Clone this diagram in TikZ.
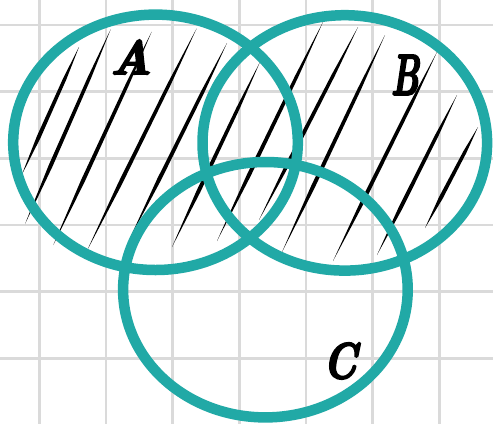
\documentclass[tikz,border=0pt]{standalone}
\usepackage{graphicx}
\usepackage{fontspec}
\newfontfamily\brushfont[FakeBold=4]{Latin Modern Roman}
\usetikzlibrary{shapes.geometric, calc}
\definecolor{setteal}{RGB}{33,169,166}
\definecolor{gridgray}{RGB}{218,218,218}

\begin{document}
\begin{tikzpicture}[
    x=1pt, y=-1pt,
    gridline/.style={draw=gridgray, line width=2.6pt},
    setring/.style={draw=setteal, ellipse, line width=10.5pt, minimum width=284.6pt, minimum height=255.4pt, inner sep=0pt},
    hatch/.style={fill=black},
    setname/.style={font=\fontsize{48}{48}\brushfont\bfseries\itshape, inner sep=0pt}
]
\useasboundingbox (0,0) rectangle (493,424);
\fill[white] (0,0) rectangle (493,424);

% Grid
\foreach \i in {0,...,6}
  \draw[gridline] ({39.3+66.67*\i},0) -- ({39.3+66.67*\i},424);
\foreach \j in {0,...,5}
  \draw[gridline] (0,{25+66.67*\j}) -- (493,{25+66.67*\j});

% Hatching
\foreach \xa/\ya/\xb/\yb in {21.7/175/79/47, 25/224/110.7/29.3, 53.3/245/151.7/31.7,
    87.3/250/196.7/28.3, 130/238/227/43, 172/247/260/62, 217/241/323/22,
    259/220/358/27, 282/252/385/35, 333/261/437/52, 377/255/457/95, 425/228/478/127}{
  \coordinate (s) at (\xa,\ya);
  \coordinate (e) at (\xb,\yb);
  \fill[hatch] (s) -- ($(s)!0.3!(e)!2pt!90:(e)$) -- ($(s)!0.75!(e)!1.7pt!90:(e)$) -- (e)
    -- ($(s)!0.75!(e)!1.7pt!-90:(e)$) -- ($(s)!0.3!(e)!2pt!-90:(e)$) -- cycle;
}

% Sets
\node[setring] (setA) at (155.5,142.3) {};
\node[setring] (setB) at (344.8,142.9) {};
\node[setring] (setC) at (265.4,289.7) {};

% Labels
\node[setname] (labA) at (131,57) {A};
\node[setname] (labB) at (405,75) {\scalebox{0.72}[1.2]{B}};
\node[setname] (labC) at (340,361) {\scalebox{0.85}[1.05]{C}};
\end{tikzpicture}
\end{document}
